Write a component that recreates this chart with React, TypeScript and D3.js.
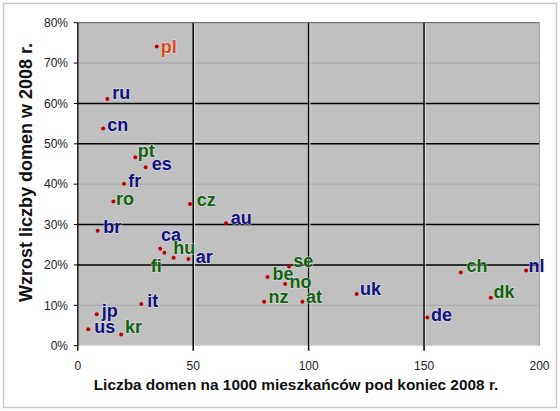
import React from "react";
import * as d3 from "d3";

const countries = ["pl","ru","cn","pt","es","fr","ro","cz","br","au","ca","fi","hu","ar","it","jp","us","kr","be","no","se","nz","at","uk","de","ch","dk","nl"];
const domainsPer1000 = [34.2,12.8,11.0,24.9,29.4,20.0,15.4,48.6,8.6,64.2,35.7,37.5,41.5,47.9,27.5,8.2,4.5,18.8,82.2,89.8,91.5,80.7,97.3,120.8,151.4,165.9,178.9,194.2];
const growth2008 = [0.741,0.611,0.538,0.467,0.442,0.401,0.357,0.351,0.285,0.303,0.240,0.230,0.218,0.215,0.103,0.078,0.041,0.028,0.170,0.153,0.196,0.109,0.109,0.128,0.070,0.181,0.119,0.186];
const groups = ["r","b","b","g","b","b","g","g","b","b","b","g","g","b","b","b","b","g","g","g","g","g","g","b","b","g","g","b"];
const xTicks = [0,50,100,150,200];
const yTicks = [0,0.1,0.2,0.3,0.4,0.5,0.6,0.7,0.8];
const xTitle = "Liczba domen na 1000 mieszkańców pod koniec 2008 r.";
const yTitle = "Wzrost liczby domen w 2008 r.";

// label placement (layout only)
const labelOffsets: [number, number][] = [
  [4,6],[5,0],[4,2.4],[2.4,-0.6],[6,2.7],[4.3,3.6],[2.7,3.3],[6.7,2],[5.6,2.6],[4.7,0.4],
  [0.7,-8],[-13.6,19],[-0.4,-3.4],[7.4,3.7],[6,3.3],[5,2.4],[6,4.3],[3.7,-1],
  [5,2.5],[4.3,3.7],[4.3,0.6],[4.3,1.6],[3.7,1.6],[3.3,1],[3.7,3.4],[5.7,-1],[2.6,0.6],[2.3,1]
];

const colorMap: Record<string, string> = { r: "#e4461c", b: "#10107e", g: "#126212" };

export default function App() {
  const W = 560, H = 411;
  const x = d3.scaleLinear().domain([0, 200]).range([77.8, 539.5]);
  const y = d3.scaleLinear().domain([0, 0.8]).range([345.7, 22.7]);
  const fmt = d3.format(".0%");
  const font = "'Liberation Sans', Arial, sans-serif";
  const faint = new Set([1, 4, 7]);
  return (
    <svg width={W} height={H} style={{ position: "absolute", left: 0, top: 0 }} fontFamily={font}>
      <rect x={0} y={0} width={W} height={H} fill="#fff" />
      <rect x={3.5} y={3.5} width={553} height={404} fill="#fff" stroke="#c8c8c8" strokeWidth={1.5} />
      <rect x={x(0)} y={y(0.8)} width={x(200) - x(0)} height={y(0) - y(0.8)} fill="#c0c0c0" />
      {yTicks.slice(1, -1).map((t, i) => (
        <line key={"hy" + t} x1={x(0)} x2={x(200)} y1={y(t)} y2={y(t)}
          stroke={faint.has(i + 1) ? "#a9a9a9" : "#000"} strokeWidth={faint.has(i + 1) ? 1 : 1.5} />
      ))}
      {xTicks.slice(1, -1).map((t) => (
        <g key={"vx" + t}>
          <line x1={x(t)} x2={x(t)} y1={y(0.8)} y2={y(0) + 5} stroke="#000" strokeWidth={1.5} />
          <line x1={x(t) + 1.3} x2={x(t) + 1.3} y1={y(0.8)} y2={y(0)} stroke="#e8e8e8" strokeWidth={0.8} />
        </g>
      ))}
      <line x1={x(0)} x2={x(200)} y1={y(0.8)} y2={y(0.8)} stroke="#555" strokeWidth={1} />
      <line x1={x(200)} x2={x(200)} y1={y(0.8)} y2={y(0)} stroke="#9a9a9a" strokeWidth={1} />
      <line x1={x(0)} x2={x(0)} y1={y(0.8)} y2={y(0) + 5} stroke="#000" strokeWidth={1.3} />
      {yTicks.map((t) => (
        <g key={"yt" + t}>
          <line x1={x(0) - 4} x2={x(0)} y1={y(t)} y2={y(t)} stroke="#000" strokeWidth={1} />
          <text x={68} y={y(t) + 4.2} textAnchor="end" fontSize={12} fill="#222">{fmt(t)}</text>
        </g>
      ))}
      {xTicks.map((t) => (
        <text key={"xt" + t} x={x(t)} y={369.5} textAnchor="middle" fontSize={12} fill="#222">{t}</text>
      ))}
      <text x={296} y={390} textAnchor="middle" fontSize={15.4} fontWeight="bold" fill="#111">{xTitle}</text>
      <text transform={`translate(32,172.5) rotate(-90)`} textAnchor="middle" fontSize={18} fontWeight="bold" fill="#111">{yTitle}</text>
      {countries.map((c, i) => {
        const px = x(domainsPer1000[i]);
        const py = y(growth2008[i]);
        const [dx, dy] = labelOffsets[i];
        return (
          <g key={c}>
            <circle cx={px} cy={py} r={2} fill="#c00000" />
            <text x={px + dx} y={py + dy} fontSize={18} fontWeight="bold" fill={colorMap[groups[i]]}
              stroke="rgba(235,235,235,0.55)" strokeWidth={1.6} paintOrder="stroke" strokeLinejoin="round">{c}</text>
          </g>
        );
      })}
    </svg>
  );
}
